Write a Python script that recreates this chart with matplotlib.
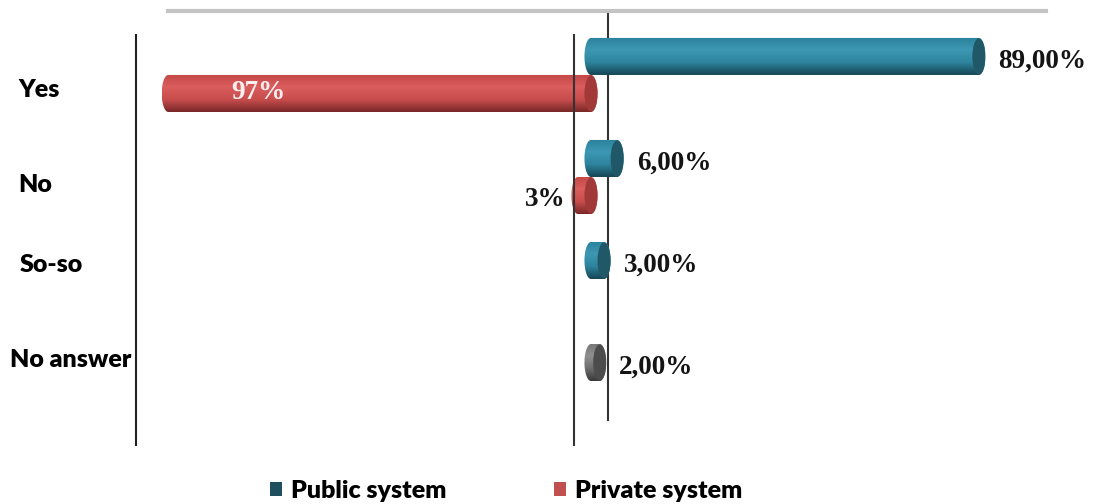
import numpy as np
import matplotlib
matplotlib.use('Agg')
import matplotlib.pyplot as plt
from matplotlib.colors import LinearSegmentedColormap
from matplotlib.patches import Ellipse, Patch
from matplotlib.path import Path

categories = ['Yes', 'No', 'So-so', 'No answer']
public_values = [89, 6, 3, 2]
private_values = [97, 3, 0, 0]
series_names = ['Public system', 'Private system']

# colour per public bar (the last one is shown in grey)
public_styles = ['teal', 'teal', 'teal', 'grey']

SHADES = {
    'teal': (['#2b819b', '#3d98b3', '#2e849e', '#164655'], '#205868'),
    'red': (['#c44848', '#db5d5d', '#c94d4d', '#7a2828'], '#a13939'),
    'grey': (['#767676', '#909090', '#6e6e6e', '#3a3a3a'], '#4c4c4c'),
}
LEGEND_COLORS = ['#1f4f5e', '#c0504d']

W, H, DPI = 1094, 504, 100
BAR_H = 0.363      # bar thickness in category units
CAP = 1.5          # half width of the end ellipse, in %

fig = plt.figure(figsize=(W / DPI, H / DPI), dpi=DPI)
ax = fig.add_axes([136 / W, 1 - 445 / H, 910 / W, 434 / H])
XL = (-104.4, 104.4)
YL = (3.627, -0.627)


def cylinder(ax, x0, x1, yc, style):
    """Horizontal cylinder from x0 to x1 with a dark end face on the right."""
    stops, cap_color = SHADES[style]
    cmap = LinearSegmentedColormap.from_list('g', stops)
    ry = BAR_H / 2
    t = np.linspace(np.pi / 2, 3 * np.pi / 2, 40)
    left = np.column_stack([x0 + CAP * np.cos(t), yc - ry * np.sin(t)])
    t2 = np.linspace(-np.pi / 2, np.pi / 2, 40)
    right = np.column_stack([x1 + CAP * np.cos(t2), yc - ry * np.sin(t2)])
    verts = np.vstack([left, right, left[:1]])
    path = Path(verts)
    grad = np.linspace(0, 1, 64).reshape(-1, 1)
    im = ax.imshow(grad, cmap=cmap, aspect='auto', origin='upper',
                   extent=(x0 - CAP, x1 + CAP, yc + ry, yc - ry),
                   interpolation='bilinear', zorder=3)
    im.set_clip_path(path, ax.transData)
    ax.add_patch(Ellipse((x1, yc), 2 * CAP, BAR_H * 0.98, facecolor=cap_color,
                         edgecolor='none', zorder=4))


ypos = np.arange(len(categories))

for i, v in enumerate(public_values):
    if v > 0:
        cylinder(ax, 0, v, ypos[i] - BAR_H / 2, public_styles[i])
for i, v in enumerate(private_values):
    if v > 0:
        cylinder(ax, -v, 0, ypos[i] + BAR_H / 2, 'red')

# frame lines of the 3D walls
ax.plot([XL[0], XL[0]], [-0.392, YL[0]], color='#222222', lw=1.5, zorder=2, clip_on=False)
ax.plot([-3.9, -3.9], [-0.392, YL[0]], color='#333333', lw=1.5, zorder=5, clip_on=False)
ax.plot([3.9, 3.9], [YL[1], 3.382], color='#333333', lw=1.5, zorder=2, clip_on=False)
ax.plot([-97, XL[1]], [YL[1], YL[1]], color='#c4c4c4', lw=3, zorder=2, clip_on=False)

# value labels
serif = dict(family='Liberation Serif', fontweight='bold', fontsize=19.5)
for i, v in enumerate(public_values):
    if v > 0:
        txt = f'{v:.2f}'.replace('.', ',') + '%'
        ax.annotate(txt, xy=(v + CAP, ypos[i] - BAR_H / 2), xytext=(13, -5),
                    textcoords='offset pixels', ha='left', va='center',
                    color='#141414', zorder=6, **serif)
for i, v in enumerate(private_values):
    if v > 50:
        ax.annotate(f'{v}%', xy=(-v - CAP, ypos[i] + BAR_H / 2), xytext=(97, 1),
                    textcoords='offset pixels', ha='center', va='center',
                    color='#fbeeee', zorder=6, **serif)
    elif v > 0:
        ax.annotate(f'{v}%', xy=(-v - CAP, ypos[i] + BAR_H / 2), xytext=(-6, -4),
                    textcoords='offset pixels', ha='right', va='center',
                    color='#141414', zorder=6, **serif)

# category labels
sans = dict(family='Lato', weight='heavy')
label_x = [18, 18, 20, 10]
label_y = [90, 185, 265, 360]
for name, lx, ly in zip(categories, label_x, label_y):
    fig.text(lx / W, 1 - ly / H, name, fontsize=18, ha='left', va='center',
             color='black', **sans)

ax.set_xlim(*XL)
ax.set_ylim(*YL)
ax.axis('off')

handles = [Patch(facecolor=c, edgecolor='none') for c in LEGEND_COLORS]
fig.legend(handles, series_names, loc='center', bbox_to_anchor=(506 / W, 1 - 491 / H),
           ncol=2, frameon=False, handlelength=0.5, handleheight=0.5,
           handletextpad=0.35, columnspacing=4.3,
           prop=dict(size=18, **sans))

fig.savefig('out.png', dpi=DPI, facecolor='white')
